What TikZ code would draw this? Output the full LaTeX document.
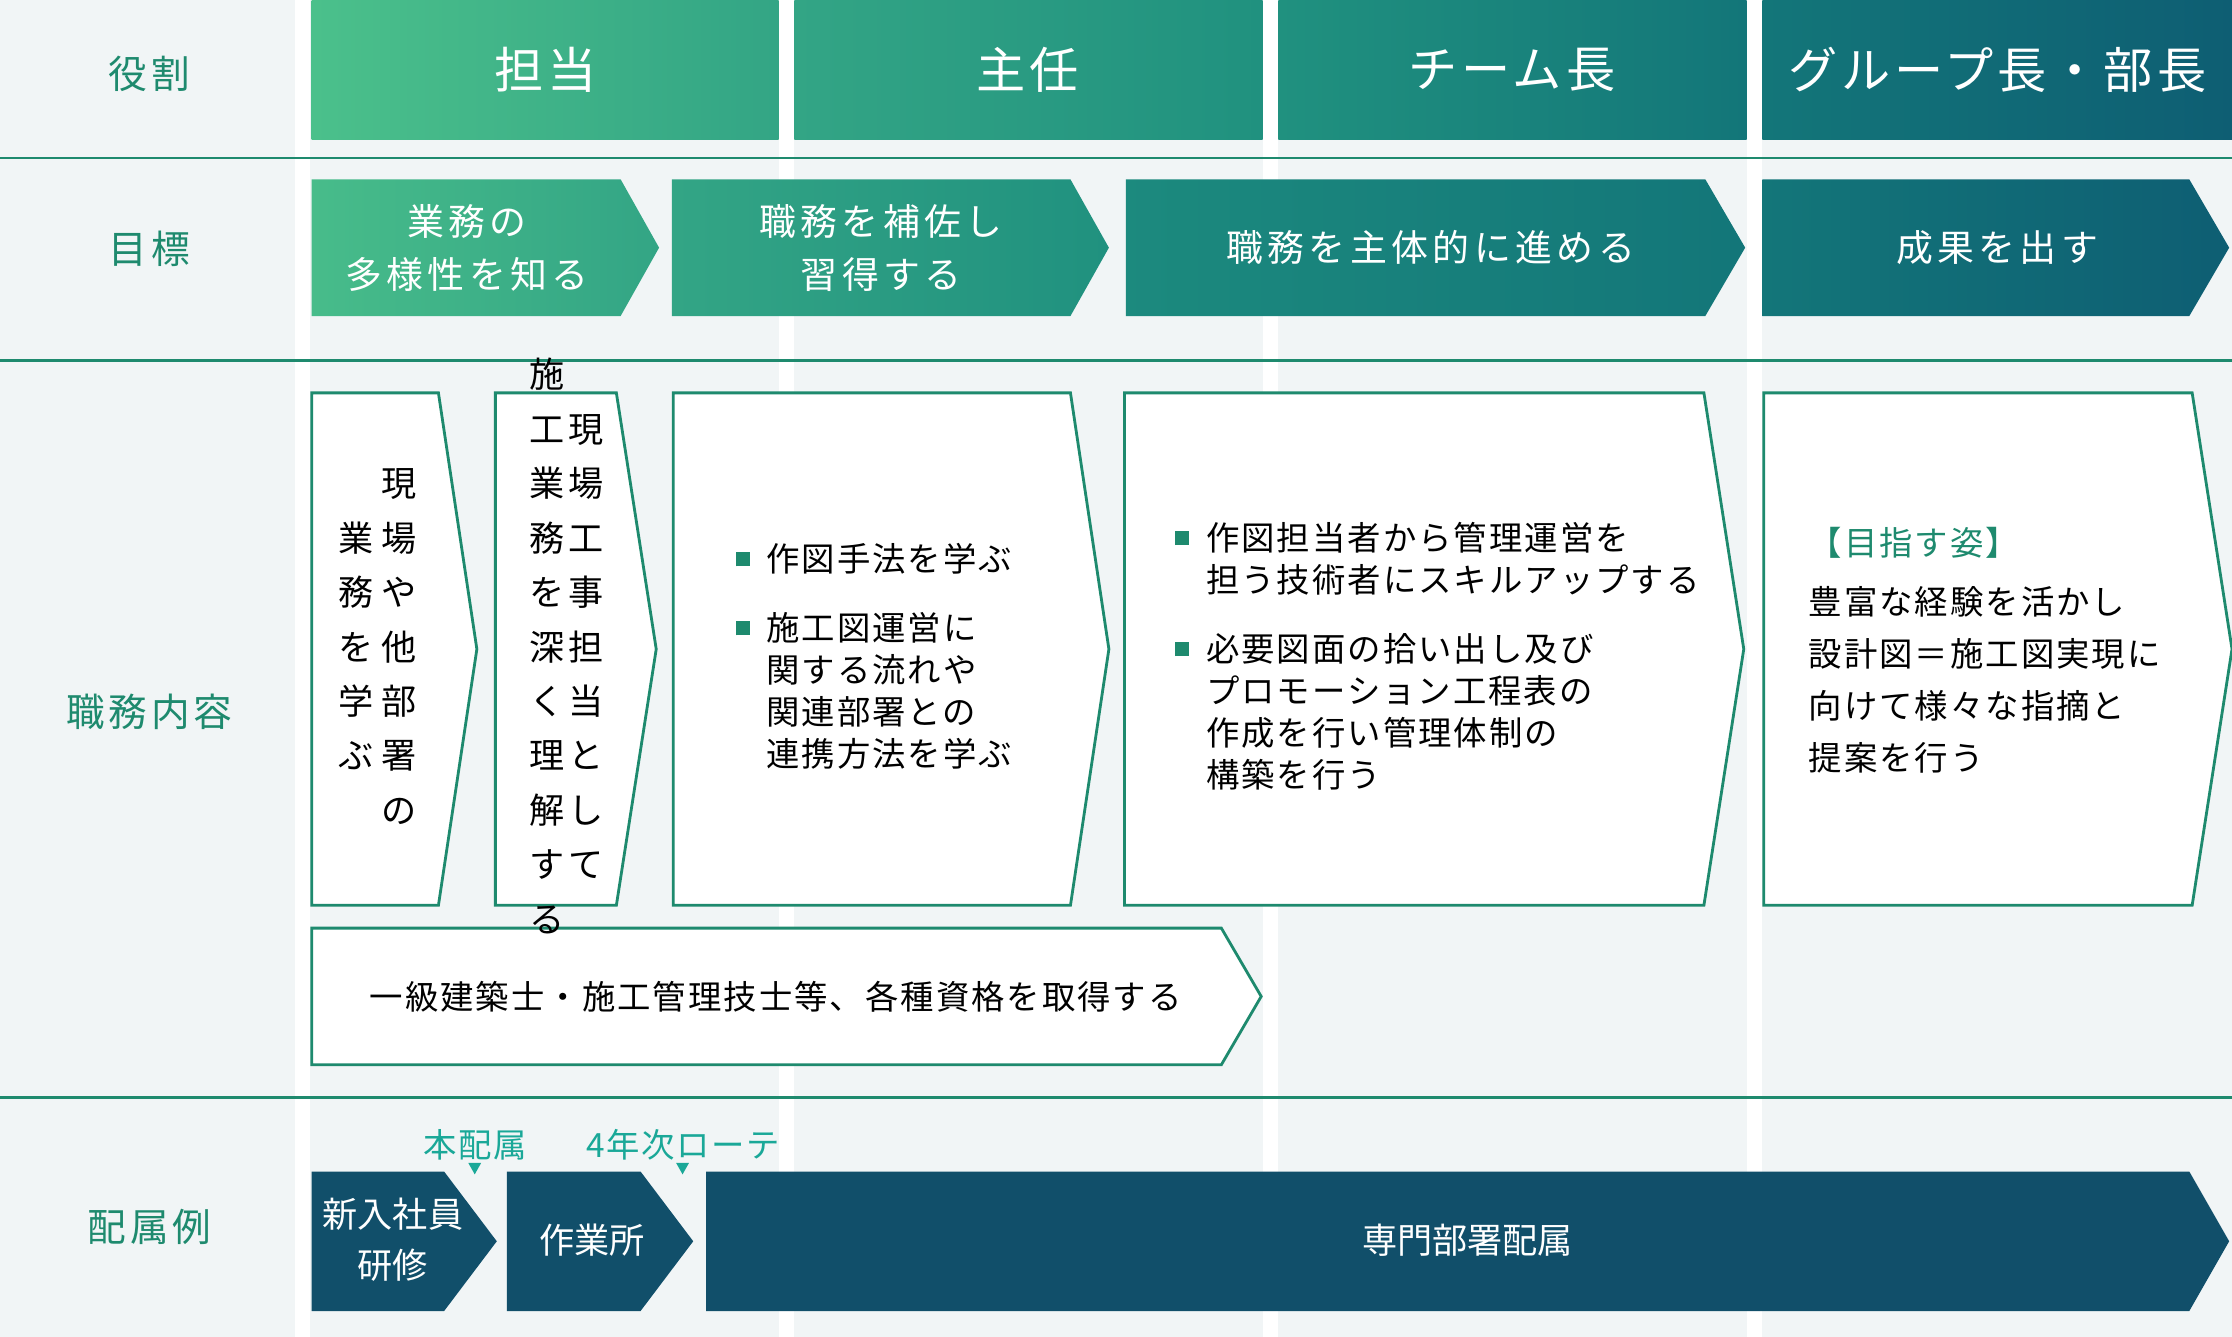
\documentclass[tikz,border=0pt]{standalone}
\usepackage{fontspec}
\setmainfont{Noto Sans CJK JP}
\usetikzlibrary{positioning}
\definecolor{bgray}{HTML}{F1F5F6}
\definecolor{lgreen}{HTML}{1E8A6E}
\definecolor{lteal}{HTML}{1AA898}
\definecolor{navy}{HTML}{114F6A}
\definecolor{hA}{HTML}{4BC08B}\definecolor{hB}{HTML}{33A585}
\definecolor{hC}{HTML}{20917F}\definecolor{hD}{HTML}{167F7C}
\definecolor{hE}{HTML}{137679}\definecolor{hF}{HTML}{0E5E73}
% chevron: x1, y1, x2 (body end), y2, tip x
\newcommand{\chevpath}[5]{(#1,#2) -- (#3,#2) -- (#5,{(#2+#4)/2}) -- (#3,#4) -- (#1,#4) -- cycle}
\newcommand{\bul}{\textcolor{lgreen}{\rule[0.15em]{0.42em}{0.42em}}}
\tikzset{
  rowlabel/.style={text=lgreen, font=\fontsize{11}{13}\selectfont\addfontfeatures{LetterSpace=10}},
  headtext/.style={text=white, font=\fontsize{14}{16}\selectfont\addfontfeatures{LetterSpace=8}},
  goaltext/.style={text=white, align=center, font=\fontsize{10.5}{15}\selectfont\addfontfeatures{LetterSpace=12}},
  bodytext/.style={align=left, font=\fontsize{9.5}{12}\selectfont\addfontfeatures{LetterSpace=6}},
  vtext/.style={font=\fontsize{10}{15.5}\selectfont, inner sep=0pt},
  contentbox/.style={draw=lgreen, line width=0.8pt, fill=white},
  sepline/.style={draw=lgreen, line width=0.8pt},
  navybox/.style={fill=navy},
  tag/.style={text=lteal, font=\fontsize{9.5}{11}\selectfont\addfontfeatures{LetterSpace=5}},
}
\begin{document}
\begin{tikzpicture}[x=0.014235cm, y=-0.014235cm]
  \useasboundingbox (0,0) rectangle (1568,939);
  \fill[bgray] (0,0) rectangle (1568,939);
  % white column gaps
  \foreach \gx in {207,547,887,1227}
    \fill[white] (\gx,0) rectangle (\gx+11,939);

  % header row
  \shade[left color=hA, right color=hB] (219,0) rectangle (547,98);
  \shade[left color=hB, right color=hC] (558,0) rectangle (887,98);
  \shade[left color=hC, right color=hE] (898,0) rectangle (1227,98);
  \shade[left color=hE, right color=hF] (1238,0) rectangle (1568,98);
  \node[rowlabel] (lrole) at (105,52) {役割};
  \node[headtext] (hone) at (383,49) {担当};
  \node[headtext] (htwo) at (722,49) {主任};
  \node[headtext] (hthree) at (1062,49) {チーム長};
  \node[headtext] (hfour) at (1403,49) {グループ長・部長};

  \draw[sepline] (0,111) -- (1568,111);
  \draw[sepline] (0,253) -- (1568,253);
  \draw[sepline] (0,771) -- (1568,771);

  % goal row
  \node[rowlabel] (lgoal) at (105,175) {目標};
  \shade[left color=hA!85!hB, right color=hB] \chevpath{219}{126}{436}{222}{463};
  \shade[left color=hB, right color=hC] \chevpath{472}{126}{752}{222}{779};
  \shade[left color=hC!60!hD, right color=hE] \chevpath{791}{126}{1198}{222}{1226};
  \shade[left color=hE, right color=hF] \chevpath{1238}{126}{1538}{222}{1566};
  \node[goaltext] (gone) at (328,174) {業務の\\多様性を知る};
  \node[goaltext] (gtwo) at (619,174) {職務を補佐し\\習得する};
  \node[goaltext] (gthree) at (1005,174) {職務を主体的に進める};
  \node[goaltext] (gfour) at (1403,174) {成果を出す};

  % content row
  \node[rowlabel] (lwork) at (105,500) {職務内容};
  \draw[contentbox] \chevpath{219}{276}{308}{636}{335};
  \draw[contentbox] \chevpath{348}{276}{433}{636}{461};
  \draw[contentbox] \chevpath{473}{276}{752}{636}{779};
  \draw[contentbox] \chevpath{790}{276}{1197}{636}{1225};
  \draw[contentbox] \chevpath{1239}{276}{1540}{636}{1568};
  \draw[contentbox] \chevpath{219}{652}{858}{748}{886};

  \node[vtext] (vonea) at (280,456) {\begin{tabular}{@{}c@{}}現\\場\\や\\他\\部\\署\\の\end{tabular}};
  \node[vtext] (voneb) at (250,456) {\begin{tabular}{@{}c@{}}業\\務\\を\\学\\ぶ\end{tabular}};
  \node[vtext] (vtwoa) at (412,456) {\begin{tabular}{@{}c@{}}現\\場\\工\\事\\担\\当\\と\\し\\て\end{tabular}};
  \node[vtext] (vtwob) at (384,456) {\begin{tabular}{@{}c@{}}施\\工\\業\\務\\を\\深\\く\\理\\解\\す\\る\end{tabular}};

  \node[bodytext, anchor=north west] (wthree) at (508,372) {%
    \begin{tabular}{@{}l@{\hspace{0.5em}}l@{}}
    \bul & 作図手法を学ぶ\\[0.8em]
    \bul & 施工図運営に\\ & 関する流れや\\ & 関連部署との\\ & 連携方法を学ぶ
    \end{tabular}};
  \node[bodytext, anchor=north west] (wfour) at (817,357) {%
    \begin{tabular}{@{}l@{\hspace{0.5em}}l@{}}
    \bul & 作図担当者から管理運営を\\ & 担う技術者にスキルアップする\\[0.8em]
    \bul & 必要図面の拾い出し及び\\ & プロモーション工程表の\\ & 作成を行い管理体制の\\ & 構築を行う
    \end{tabular}};
  \node[bodytext, anchor=north west, font=\fontsize{9.5}{14.8}\selectfont\addfontfeatures{LetterSpace=6}] (wfive) at (1262,362) {%
    \textcolor{lgreen}{【目指す姿】}\\[0.2em]
    豊富な経験を活かし\\設計図＝施工図実現に\\向けて様々な指摘と\\提案を行う};
  \node[bodytext] (wsix) at (545,700) {一級建築士・施工管理技士等、各種資格を取得する};

  % assignment row
  \node[rowlabel] (lassign) at (105,862) {配属例};
  \fill[navybox] \chevpath{219}{823}{312}{921}{349};
  \fill[navybox] \chevpath{356}{823}{450}{921}{487};
  \fill[navybox] \chevpath{496}{823}{1538}{921}{1566};
  \node[goaltext, font=\fontsize{10}{14.5}\selectfont] (aone) at (276,871) {新入社員\\研修};
  \node[goaltext, font=\fontsize{10}{14.5}\selectfont] (atwo) at (416,871) {作業所};
  \node[goaltext, font=\fontsize{10}{14.5}\selectfont] (athree) at (1031,871) {専門部署配属};
  \node[tag] (tone) at (334,804) {本配属};
  \node[tag] (ttwo) at (480,804) {4年次ローテ};
  \fill[lteal] (329,817) -- (338,817) -- (333.5,825) -- cycle;
  \fill[lteal] (475,817) -- (484,817) -- (479.5,825) -- cycle;
\end{tikzpicture}
\end{document}
